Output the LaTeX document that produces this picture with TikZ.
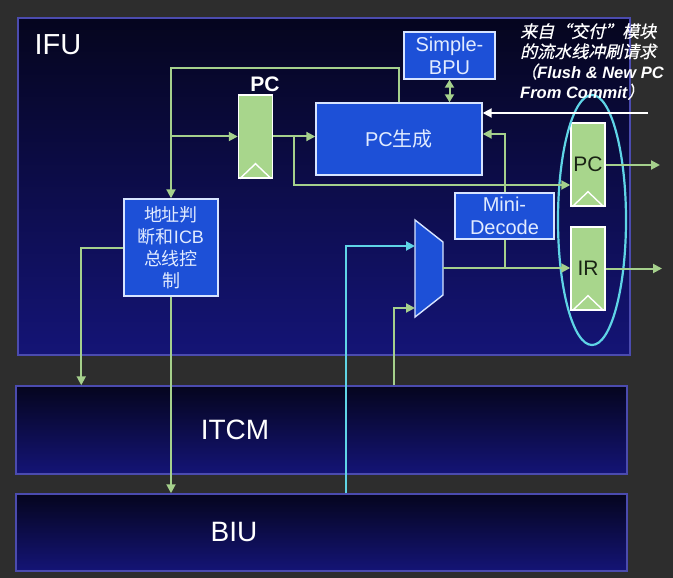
\documentclass[tikz,border=0pt]{standalone}
\usepackage{fontspec}
\setmainfont{Liberation Sans}
\newfontfamily\cjk{Noto Sans CJK SC}
\newfontfamily\cjkit[FakeSlant=0.22,FakeBold=0.6]{Noto Sans CJK SC}
\usetikzlibrary{arrows.meta,shapes.geometric,calc}
\definecolor{bg}{RGB}{45,45,45}
\definecolor{paneltop}{RGB}{5,5,30}
\definecolor{panelbot}{RGB}{20,20,118}
\definecolor{panelborder}{RGB}{75,75,175}
\definecolor{boxblue}{RGB}{29,80,215}
\definecolor{boxborder}{RGB}{215,228,255}
\definecolor{boxtext}{RGB}{225,235,255}
\definecolor{reggreen}{RGB}{168,214,140}
\definecolor{wiregreen}{RGB}{165,208,140}
\definecolor{cyanc}{RGB}{95,212,230}
\definecolor{regtext}{RGB}{25,35,20}
\begin{document}
\begin{tikzpicture}[x=1pt,y=-1pt,
  panel/.style={draw=panelborder, line width=1.5pt, top color=paneltop, bottom color=panelbot, rectangle, inner sep=0pt},
  bluebox/.style={draw=boxborder, line width=1.4pt, fill=boxblue, text=boxtext, align=center, inner sep=0pt},
  reg/.style={draw=white, line width=1.4pt, fill=reggreen, inner sep=0pt, minimum width=34pt, minimum height=83pt, text=regtext, font=\fontsize{21}{22}\selectfont},
  wire/.style={draw=wiregreen, line width=2pt},
  arr/.style={-{Triangle[length=9pt,width=9pt]}},
  clk/.style={draw=white, line width=1.4pt}
]
\fill[bg] (0,0) rectangle (673,578);
\useasboundingbox (0,0) rectangle (673,578);

% panels
\node[panel, minimum width=612pt, minimum height=337pt] (ifu) at (324,186.5) {};
\node[panel, minimum width=611pt, minimum height=88pt] (itcm) at (321.5,430) {};
\node[panel, minimum width=611pt, minimum height=77pt] (biu) at (321.5,532.5) {};
\node[anchor=base west, text=white, font=\fontsize{29}{30}\selectfont] (ifulbl) at (31,55) {IFU};
\node[text=white, font=\fontsize{28}{30}\selectfont] (itcmlbl) at (235,430) {ITCM};
\node[text=white, font=\fontsize{28}{30}\selectfont] (biulbl) at (234,532) {BIU};

% blocks
\node[bluebox, minimum width=166pt, minimum height=72pt, font=\fontsize{20}{22}\selectfont] (pcgen) at (399,139) {PC{\cjk 生成}};
\node[bluebox, minimum width=91pt, minimum height=47pt, font=\fontsize{20}{23}\selectfont] (bpu) at (449.5,55.5) {Simple-\\BPU};
\node[bluebox, minimum width=99pt, minimum height=46pt, font=\fontsize{20}{23}\selectfont] (mini) at (504.5,216) {Mini-\\Decode};
\node[bluebox, minimum width=94pt, minimum height=97pt, font=\fontsize{18}{22}\selectfont] (addr) at (171,247.5) {{\cjk 地址判}\\{\cjk 断和}ICB\\{\cjk 总线控}\\{\cjk 制}};

% registers
\node[reg] (pcreg) at (255.5,136.5) {};
\draw[clk] ($(pcreg.south west)+(2,0)$) -- ($(pcreg.south)+(0,-15)$) -- ($(pcreg.south east)+(-2,0)$);
\node[text=white, font=\bfseries\fontsize{21}{22}\selectfont] (pclbl) at (265,84) {PC};
\node[reg] (pcout) at (588,164.5) {PC};
\draw[clk] ($(pcout.south west)+(2,0)$) -- ($(pcout.south)+(0,-15)$) -- ($(pcout.south east)+(-2,0)$);
\node[reg] (ir) at (588,268.5) {IR};
\draw[clk] ($(ir.south west)+(2,0)$) -- ($(ir.south)+(0,-15)$) -- ($(ir.south east)+(-2,0)$);

% mux
\draw[draw=boxborder, line width=1.4pt, fill=boxblue] (415,220) -- (443,242) -- (443,295) -- (415,317) -- cycle;
\coordinate (muxin1) at (415,246);
\coordinate (muxin2) at (415,308);
\coordinate (muxout) at (443,268);

% selection ellipse
\node[draw=cyanc, line width=2.2pt, ellipse, minimum width=68pt, minimum height=250pt, inner sep=0pt] (sel) at (592,220) {};

% connectors
\draw[wire, arr] (pcgen.north) -- ++(0,-34) -| (addr.north);
\draw[wire, arr] (addr.north |- pcreg.west) -- (pcreg.west);
\draw[wire, arr] (pcreg.east) -- (pcgen.west |- pcreg.east);
\draw[wire, arr] ($(pcreg.east)+(21,0)$) |- ($(pcout.west)+(0,20.5)$);
\draw[wire, arr] (muxout) -- (ir.west |- muxout);
\draw[wire] (mini.south) -- (mini.south |- muxout);
\draw[wire, arr] (mini.north) |- ($(pcgen.east)+(0,-5)$);
\coordinate (flushsrc) at (648,113);
\draw[white, line width=2pt, arr] (flushsrc) -- (pcgen.east |- flushsrc);
\draw[wire, {Triangle[length=8pt,width=9pt]}-{Triangle[length=8pt,width=9pt]}] (bpu.south) -- (bpu.south |- pcgen.north);
\draw[wire, arr] (addr.west) -| ($(itcm.north west)+(66,0)$);
\draw[wire, arr] (addr.south) -- (addr.south |- biu.north);
\draw[cyanc, line width=2pt, arr] ($(biu.north west)+(331,0)$) |- (muxin1);
\draw[wire, arr] ($(itcm.north west)+(379,0)$) |- (muxin2);
\coordinate (pcdst) at (660,165);
\coordinate (irdst) at (662,268.5);
\draw[wire, arr] (pcout.east |- pcdst) -- (pcdst);
\draw[wire, arr] (ir.east) -- (irdst);

% flush text
\node[anchor=north west, text=white, align=left, inner sep=0pt, font=\fontsize{17}{20.2}\selectfont] (flushtxt) at (520,23)
  {{\cjkit 来自“交付”模块}\\{\cjkit 的流水线冲刷请求}\\{\cjkit （}{\fontsize{16.5}{20.2}\selectfont\bfseries\itshape Flush \& New PC}\\{\fontsize{16.5}{20.2}\selectfont\bfseries\itshape From Commit}{\cjkit ）}};
\end{tikzpicture}
\end{document}
